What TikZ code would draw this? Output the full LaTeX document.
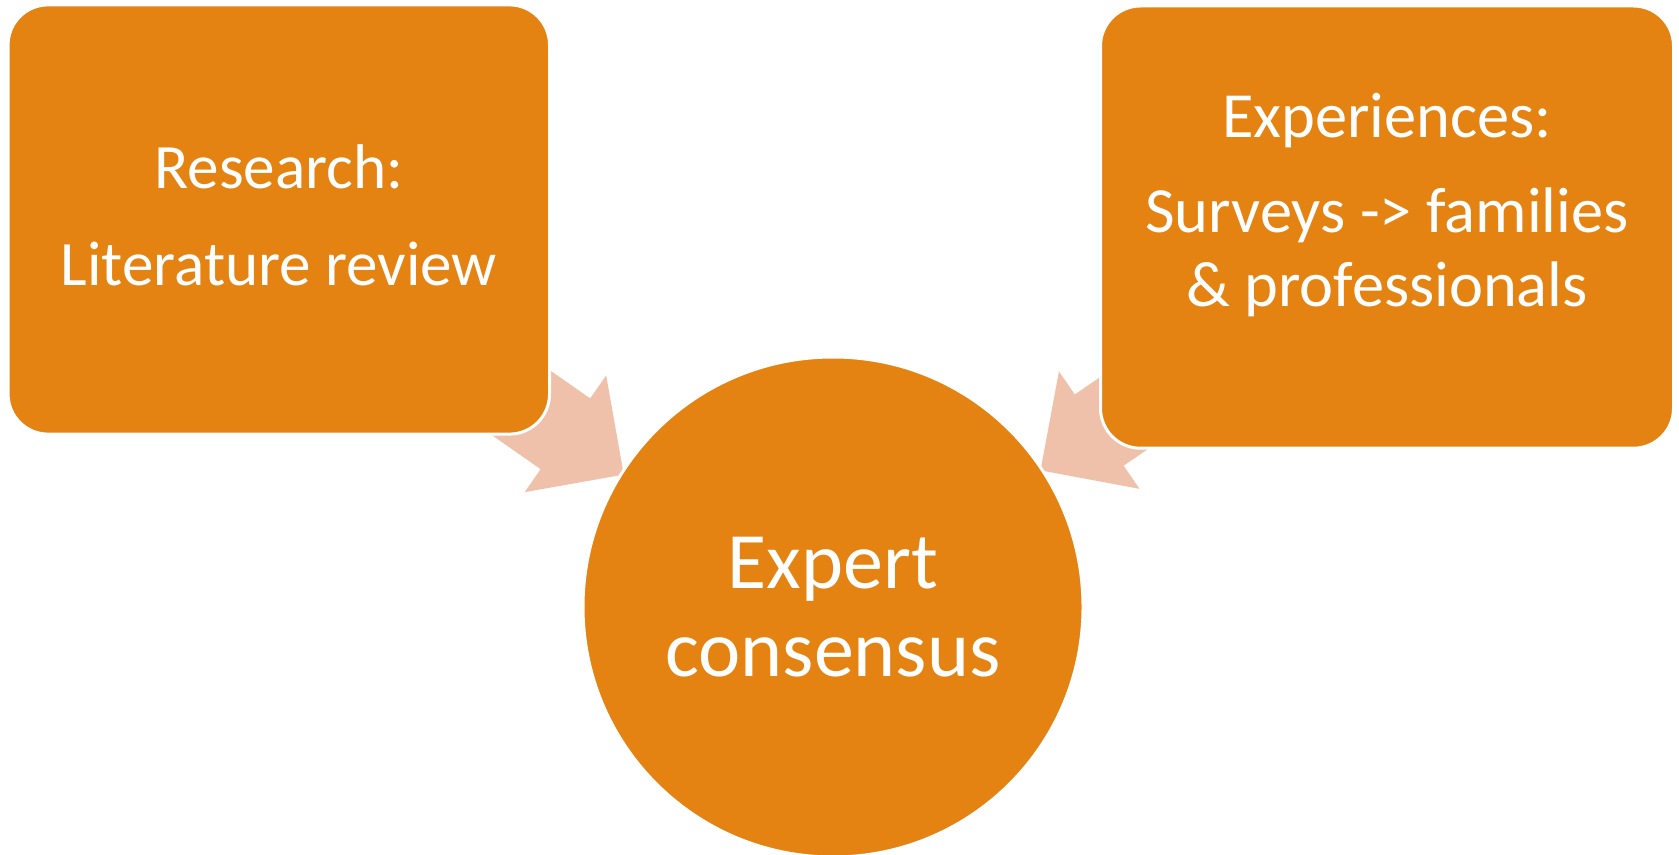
\documentclass[tikz,border=0pt]{standalone}
\usepackage{fontspec}
\setmainfont{Carlito}
\usetikzlibrary{positioning}
\usetikzlibrary{shapes.arrows}
\usetikzlibrary{backgrounds}

\definecolor{boxorange}{RGB}{228,131,18}
\definecolor{arrowpeach}{RGB}{240,193,170}

\begin{document}
\begin{tikzpicture}[x=0.5pt,y=-0.5pt,
  block/.style={rectangle,rounded corners=20pt,fill=boxorange,draw=white,line width=1.5pt,inner sep=0pt},
  blocktext/.style={text=white,align=center,inner sep=0pt},
  hub/.style={circle,fill=boxorange,draw=white,line width=1.5pt,text=white,align=center,inner sep=0pt,minimum size=250pt},
  feed/.style={single arrow,fill=arrowpeach,draw=none,single arrow tip angle=90,single arrow head extend=14pt,
    inner xsep=0pt,inner ysep=21.4pt,minimum height=70pt,sloped,allow upside down,anchor=tip}]
\useasboundingbox (0,0) rectangle (1679,855);

% the two sources
\node[block,minimum width=270.7pt,minimum height=214.6pt] (research) at (278.8,219.5) {};
\node[block,minimum width=286.5pt,minimum height=221.1pt] (experiences) at (1387,227.1) {};
\node[blocktext,font=\fontsize{31.6}{48.2}\selectfont] (researchtext) at ([yshift=2.2pt]research.center) {Research:\\Literature review};
\node[blocktext,font=\fontsize{32.2}{36.7}\selectfont] (experiencestext) at ([yshift=11pt]experiences.center) {Experiences:\\[10.8pt]Surveys -> families\\\& professionals};

% the result
\node[hub,font=\fontsize{40}{43.8}\selectfont] (expert) at (833,607) {Expert\\consensus};

% block arrows behind the boxes
\begin{scope}[on background layer]
\path ([shift={(-6.6,9.3)}]research.center) -- ([shift={(-6.6,9.3)}]expert.center) node[feed,pos=0.6352] (feedleft) {};
\path ([shift={(2.7,3.8)}]experiences.center) -- ([shift={(2.7,3.8)}]expert.center) node[feed,pos=0.6312] (feedright) {};
\end{scope}

\end{tikzpicture}
\end{document}
